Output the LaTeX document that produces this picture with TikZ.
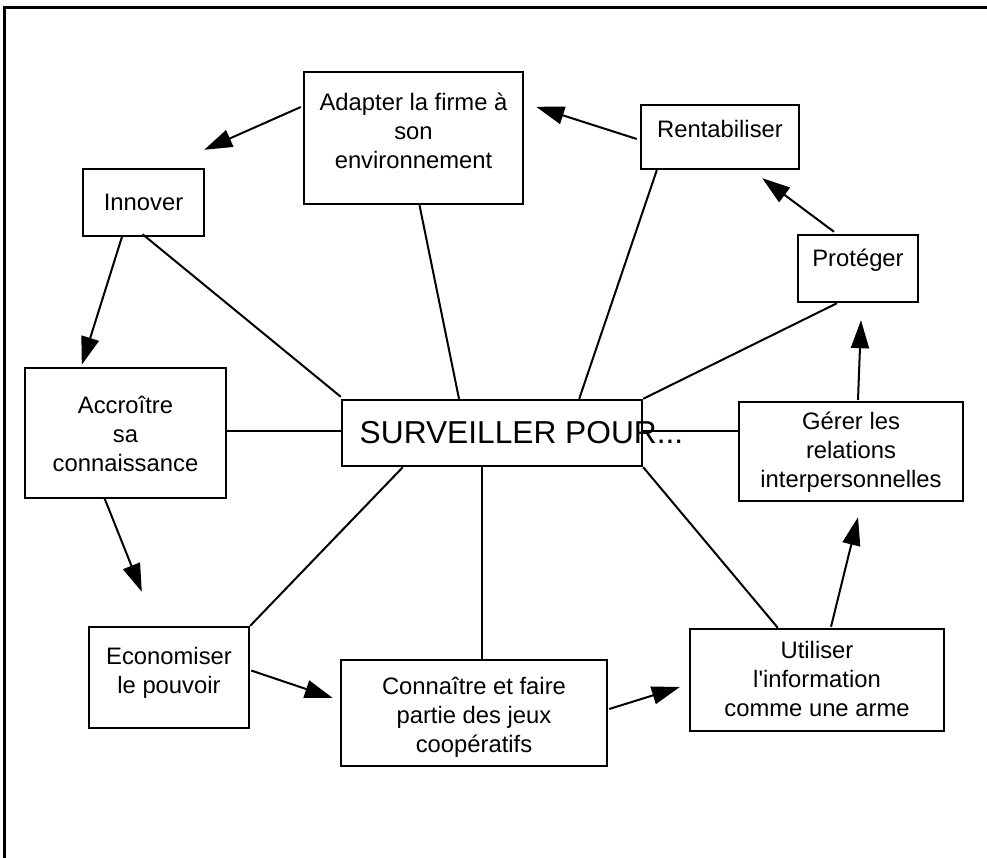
\documentclass[tikz,border=0pt]{standalone}
\usepackage{fontspec}
\setmainfont{Liberation Sans}[Ligatures=TeXOff]
\usetikzlibrary{arrows.meta,calc}
\begin{document}
\begin{tikzpicture}[x=1pt,y=-1pt,
  frame/.style={line width=3pt},
  box/.style={draw, line width=2.4pt, inner sep=0pt},
  lbl/.style={align=center, inner sep=0pt, font=\fontsize{23.8}{29}\selectfont},
  biglbl/.style={inner sep=0pt, font=\fontsize{31.7}{36}\selectfont},
  link/.style={line width=2pt},
  arrowlink/.style={line width=2pt, -{Triangle[length=28pt,width=18pt]}}]

\useasboundingbox (0,0) rectangle (987,857);

% outer frame (right and bottom sides fall off the page)
\draw[frame] (4,880) -- (4,7) -- (1010,7);

% boxes
\node[box, minimum width=121pt, minimum height=67pt]  (innov) at (143.5,202.5) {};
\node[box, minimum width=219pt, minimum height=132pt] (adapt) at (413.5,138) {};
\node[box, minimum width=158pt, minimum height=64pt]  (rent)  at (720,137) {};
\node[box, minimum width=120pt, minimum height=67pt]  (prot)  at (858,268.5) {};
\node[box, minimum width=201pt, minimum height=130pt] (accr)  at (125.5,433) {};
\node[box, minimum width=300pt, minimum height=66pt]  (surv)  at (492,433) {};
\node[box, minimum width=224pt, minimum height=99pt]  (gerer) at (851,451.5) {};
\node[box, minimum width=160pt, minimum height=101pt] (econ)  at (169,677.5) {};
\node[box, minimum width=266pt, minimum height=106pt] (conn)  at (474,713) {};
\node[box, minimum width=254pt, minimum height=102pt] (util)  at (817,680) {};

% box texts
\node[lbl] (innov-t) at (143.5,202) {Innover};
\node[lbl] (adapt-t) at (413.5,131) {Adapter la firme à\\son\\environnement};
\node[lbl] (rent-t)  at (720,129) {Rentabiliser};
\node[lbl] (prot-t)  at (858,260) {Protéger};
\node[lbl] (accr-t)  at (125.5,434) {Accroître\\sa\\connaissance};
\node[biglbl] (surv-t) at (521.5,433) {SURVEILLER POUR...};
\node[lbl] (gerer-t) at (851,452.5) {Gérer les\\relations\\interpersonnelles};
\node[lbl] (econ-t)  at (169,673) {Economiser\\le pouvoir};
\node[lbl] (conn-t)  at (474,717) {Connaître et faire\\partie des jeux\\coopératifs};
\node[lbl] (util-t)  at (817,679) {Utiliser\\l'information\\comme une arme};

% spokes from the central box
\draw[link] ($(innov.south)+(-1,-3)$) -- ($(surv.north west)+(0,-2)$);
\draw[link] ($(adapt.south)+(6,0)$) -- ($(surv.north)+(-33,0)$);
\draw[link] ($(rent.south west)+(17,0)$) -- ($(surv.north east)+(-64,0)$);
\draw[link] ($(prot.south)+(-21,0)$) -- (surv.north east);
\draw[link] ($(accr.east)+(0,-2)$) -- ($(surv.west)+(0,-2)$);
\draw[link] ($(surv.east)+(0,-2)$) -- ($(surv.east -| gerer.west)+(0,-2)$);
\draw[link] ($(surv.south west)+(62,0)$) -- (econ.north east);
\draw[link] ($(surv.south)+(-10,0)$) -- ($(conn.north)+(8,0)$);
\draw[link] (surv.south east) -- ($(util.north west)+(89,0)$);

% cycle of arrows around the hub
\draw[arrowlink] ($(adapt.west)+(-2,-31)$) -- ($(innov.north east)+(-1,-18)$);
\draw[arrowlink] ($(rent.west)+(-3,2)$) -- ($(adapt.north east)+(12,36)$);
\draw[arrowlink] ($(prot.north)+(-24,-2)$) -- ($(rent.south east)+(-38,8)$);
\draw[arrowlink] ($(innov.south)+(-21,-2)$) -- ($(accr.north west)+(58,-2)$);
\draw[arrowlink] ($(accr.south)+(-21,-1)$) -- ($(econ.north west)+(54,-34)$);
\draw[arrowlink] ($(econ.east)+(1,-7)$) -- ($(conn.west)+(-7,-15)$);
\draw[arrowlink] ($(conn.east)+(1,-4)$) -- ($(util.west)+(-9,7)$);
\draw[arrowlink] ($(util.north)+(14,-1)$) -- ($(gerer.south)+(7,15)$);
\draw[arrowlink] ($(gerer.north)+(7,-1)$) -- ($(prot.south)+(3,17)$);

\end{tikzpicture}
\end{document}
